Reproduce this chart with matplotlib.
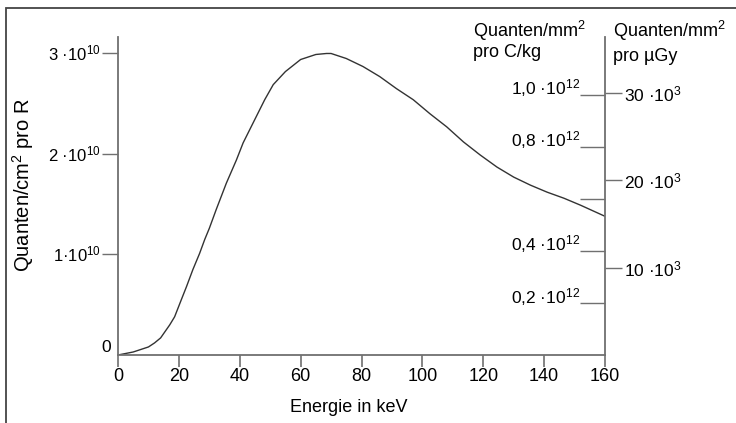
import matplotlib
matplotlib.use("Agg")
import matplotlib.pyplot as plt
from matplotlib.patches import Rectangle

plt.rcParams["font.family"] = ["Liberation Sans", "DejaVu Sans"]
plt.rcParams["mathtext.fontset"] = "custom"
plt.rcParams["mathtext.rm"] = "Liberation Sans"
plt.rcParams["mathtext.it"] = "Liberation Sans:italic"
plt.rcParams["mathtext.bf"] = "Liberation Sans:bold"

# Spektrum: Energie (keV) und Quanten/cm^2 pro R (in 1e10)
energy = [0, 5, 10, 12, 14, 17, 18.6, 20.8, 22.5, 24.6,
          26.8, 28.5, 30, 32.3, 35.6, 38.9, 41.1, 44.4, 48.2, 51,
          55, 60, 65, 68.5, 70, 75, 80.5, 86, 91.5, 97,
          102.5, 108, 113.5, 119, 124.5, 130, 135.5, 141, 146.5, 152,
          160]
fluence = [0, 0.03, 0.08, 0.12, 0.17, 0.30, 0.38, 0.55, 0.68, 0.85,
           1.01, 1.15, 1.26, 1.45, 1.71, 1.94, 2.11, 2.31, 2.54, 2.69,
           2.82, 2.94, 2.99, 3.0, 3.0, 2.95, 2.87, 2.77, 2.65, 2.54,
           2.40, 2.27, 2.12, 1.99, 1.87, 1.77, 1.69, 1.62, 1.56, 1.49,
           1.38]

x_ticks = [0, 20, 40, 60, 80, 100, 120, 140, 160]
left_ticks = [1, 2, 3]
left_labels = ["1·10$^{10}$", "2 ·10$^{10}$", "3 ·10$^{10}$"]
ckg_ticks = [0.2, 0.4, 0.6, 0.8, 1.0]
ckg_labels = ["0,2 ·10$^{12}$", "0,4 ·10$^{12}$", "", "0,8 ·10$^{12}$", "1,0 ·10$^{12}$"]
ugy_ticks = [10, 20, 30]
ugy_labels = ["10 ·10$^{3}$", "20 ·10$^{3}$", "30 ·10$^{3}$"]

# Umrechnung: 1e12 Quanten/mm^2 pro C/kg = 2.59e10 /cm^2 pro R,
#             1e3 Quanten/mm^2 pro uGy = 0.087e10 /cm^2 pro R
f_ckg = 2.59
f_ugy = 0.087

AX = "#707070"
W, H = 736, 423
fig = plt.figure(figsize=(W / 100, H / 100), dpi=100)
ax = fig.add_axes([118 / W, 1 - 355 / H, (605 - 118) / W, (355 - 37) / H])
ymax = 3.164
ax.set_xlim(0, 160)
ax.set_ylim(0, ymax)

ax.plot(energy, fluence, color="#333333", lw=1.0)

for s in ("top", "right"):
    ax.spines[s].set_visible(False)
for s in ("left", "bottom"):
    ax.spines[s].set_color(AX)
    ax.spines[s].set_linewidth(1.3)

ax.set_xticks(x_ticks)
ax.tick_params(axis="x", direction="out", length=8.5, width=1.2, color=AX,
               pad=1, labelsize=13)
ax.set_yticks(left_ticks, labels=left_labels)
ax.set_yticks([0], labels=["0"], minor=True)
ax.tick_params(axis="y", which="major", direction="out", length=11.5, width=1,
               color=AX, pad=1, labelsize=12)
ax.tick_params(axis="y", which="minor", length=0, pad=5, labelsize=12.5)
for lbl in ax.get_yticklabels():
    lbl.set_va("center")
for lbl in ax.get_yticklabels(minor=True):
    lbl.set_va("bottom")

ax.set_xlabel("Energie in keV", fontsize=13)
ax.xaxis.set_label_coords((349 - 118) / 487, -0.138)
ax.set_ylabel("Quanten/cm$^{2}$ pro R", fontsize=14.5)
ax.yaxis.set_label_coords(-0.168, (355 - 185) / 318)

# rechte Achse, Ticks nach innen: Quanten/mm^2 pro C/kg
ax_c = ax.twinx()
ax_c.set_ylim(0, ymax / f_ckg)
for s in ("top", "left", "bottom"):
    ax_c.spines[s].set_visible(False)
ax_c.spines["right"].set_color(AX)
ax_c.spines["right"].set_linewidth(1.3)
ax_c.set_yticks(ckg_ticks, labels=ckg_labels)
ax_c.tick_params(axis="y", direction="in", length=18, width=1, color=AX,
                 pad=-18, labelsize=12.5)
for lbl in ax_c.get_yticklabels():
    lbl.set_ha("right")
    lbl.set_va("baseline")

# rechte Achse, Ticks nach aussen: Quanten/mm^2 pro uGy
ax_u = ax.twinx()
ax_u.set_ylim(0, ymax / f_ugy)
for s in ("top", "left", "bottom", "right"):
    ax_u.spines[s].set_visible(False)
ax_u.set_yticks(ugy_ticks, labels=ugy_labels)
ax_u.tick_params(axis="y", direction="out", length=12, width=1, color=AX,
                 pad=2, labelsize=12.5)

fig.text(473 / W, 1 - 37 / H, "Quanten/mm$^{2}$", fontsize=13, va="baseline")
fig.text(473 / W, 1 - 57 / H, "pro C/kg", fontsize=13, va="baseline")
fig.text(613 / W, 1 - 37 / H, "Quanten/mm$^{2}$", fontsize=13, va="baseline")
fig.text(613 / W, 1 - 61 / H, "pro µGy", fontsize=13, va="baseline")

fig.add_artist(Rectangle((6 / W, -0.1), 2, 1 - 8 / H + 0.1,
                         transform=fig.transFigure, fill=False,
                         ec="#444444", lw=1.3))

fig.savefig("out.png", dpi=100)
